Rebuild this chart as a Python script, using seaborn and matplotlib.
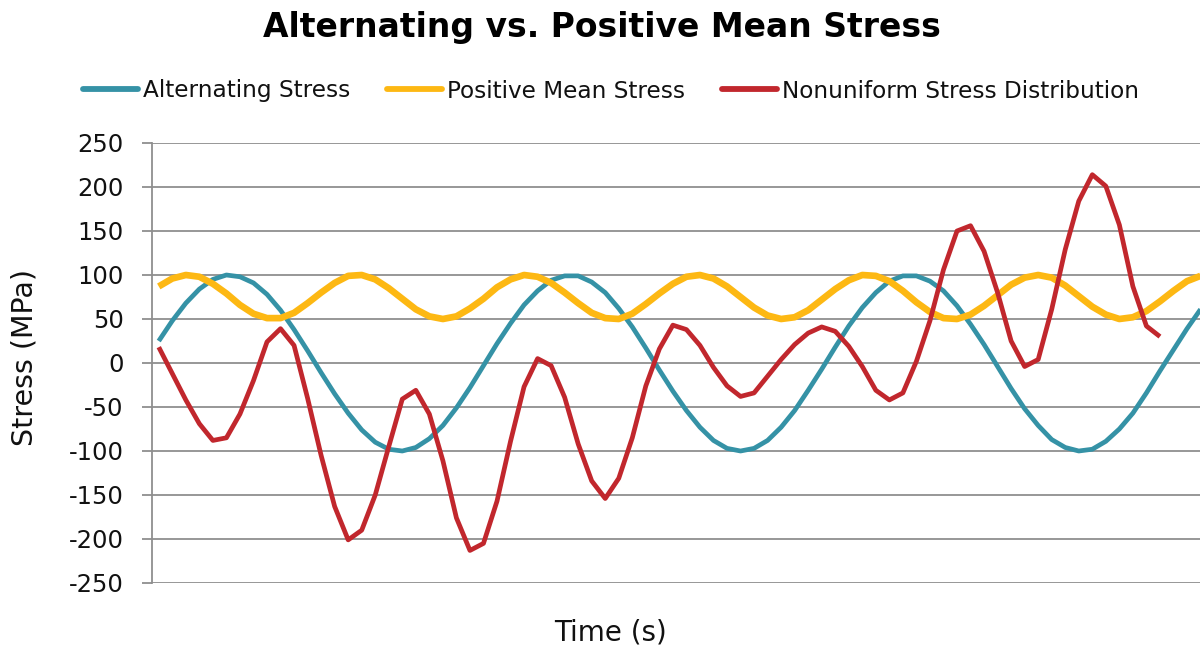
import matplotlib
matplotlib.use("Agg")
import matplotlib.pyplot as plt
import matplotlib.lines as mlines
import seaborn as sns
import pandas as pd

# ---- data ----
series_names = ["Alternating Stress", "Positive Mean Stress", "Nonuniform Stress Distribution"]

alternating = [25, 48, 68, 84, 95, 100, 98, 91, 78, 60,
               38, 14, -11, -35, -57, -76, -90, -98, -100, -96,
               -86, -71, -51, -28, -3, 22, 45, 66, 82, 94,
               99, 99, 92, 80, 62, 41, 17, -8, -32, -54,
               -73, -88, -97, -100, -97, -88, -73, -54, -31, -7,
               18, 42, 63, 80, 93, 99, 99, 93, 82, 65,
               44, 21, -4, -29, -52, -71, -87, -96, -100, -98,
               -89, -75, -57, -34, -9, 15, 39, 61]

positive_mean = [87, 96, 100, 98, 90, 79, 66, 56, 51, 51,
                 57, 68, 80, 91, 99, 100, 95, 85, 73, 61,
                 53, 50, 53, 62, 73, 86, 95, 100, 98, 91,
                 80, 68, 57, 51, 50, 56, 67, 79, 90, 98,
                 100, 96, 87, 75, 63, 54, 50, 52, 60, 72,
                 84, 94, 100, 99, 93, 82, 69, 58, 51, 50,
                 55, 65, 77, 89, 97, 100, 97, 88, 76, 64,
                 55, 50, 52, 59, 70, 82, 93, 99]

nonuniform = [18, -12, -42, -69, -88, -85, -58, -20, 24, 39,
              20, -40, -105, -163, -201, -190, -150, -95, -41, -31,
              -58, -111, -176, -213, -205, -157, -89, -27, 5, -3,
              -39, -92, -134, -154, -131, -85, -26, 16, 43, 38,
              20, -5, -26, -38, -34, -15, 4, 21, 34, 41,
              36, 19, -4, -31, -42, -34, 2, 48, 106, 150,
              156, 127, 80, 25, -4, 4, 61, 129, 184, 214,
              201, 157, 87, 42, 30]

y_ticks = [-250, -200, -150, -100, -50, 0, 50, 100, 150, 200, 250]

colors = ["#3592a6", "#fdb813", "#c1272d"]
widths = [3.4, 4.8, 3.4]

# ---- styling ----
sns.set_theme(style="white")
plt.rcParams['font.family'] = ['DejaVu Sans']
plt.rcParams['axes.unicode_minus'] = False

W, H = 1200, 651
fig = plt.figure(figsize=(W / 100, H / 100), dpi=100)
ax = fig.add_axes([152 / W, 1 - 583 / H, 1 - 152 / W, 440 / H])

all_series = [alternating, positive_mean, nonuniform]
for name, vals, c, lw in zip(series_names, all_series, colors, widths):
    df = pd.DataFrame({"t": range(len(vals)), "stress": vals})
    sns.lineplot(data=df, x="t", y="stress", ax=ax, color=c, linewidth=lw,
                 legend=False, solid_joinstyle="round", solid_capstyle="butt", zorder=3)

ax.set_xlim(-0.5, 76.96)
ax.set_ylim(-250, 250)
ax.set_yticks(y_ticks)
ax.set_yticklabels([str(v) for v in y_ticks])
ax.set_xticks([])
ax.set_xlabel("")
ax.set_ylabel("")

grid_c = "#8f8f8f"
ax.yaxis.grid(True, color=grid_c, linewidth=1.3)
ax.xaxis.grid(False)
ax.set_axisbelow(True)
for s in ["top", "right", "bottom"]:
    ax.spines[s].set_visible(False)
ax.spines["left"].set_color(grid_c)
ax.spines["left"].set_linewidth(1.3)
ax.tick_params(axis="y", which="major", left=True, length=7.5, width=1.3,
               color=grid_c, pad=13, labelsize=17.5, labelcolor="#111111")

# title, axis labels
fig.text(602 / W, 1 - 28 / H, "Alternating vs. Positive Mean Stress",
         ha="center", va="center", fontsize=23.8, fontweight="bold", color="black")
fig.text(25 / W, 1 - 357 / H, "Stress (MPa)", rotation=90, ha="center", va="center",
         fontsize=20.5, color="#111111")
fig.text(611 / W, 1 - 633 / H, "Time (s)", ha="center", va="center",
         fontsize=20, color="#111111")

handles = [mlines.Line2D([], [], color=c, linewidth=4.2) for c in colors]
fig.legend(handles, series_names, loc="center", bbox_to_anchor=(611 / W, 1 - 91 / H),
           ncol=3, frameon=False, fontsize=16.7, handlelength=2.37, handletextpad=0.22,
           columnspacing=1.6, labelcolor="#111111")

fig.savefig("out.png", dpi=100)
